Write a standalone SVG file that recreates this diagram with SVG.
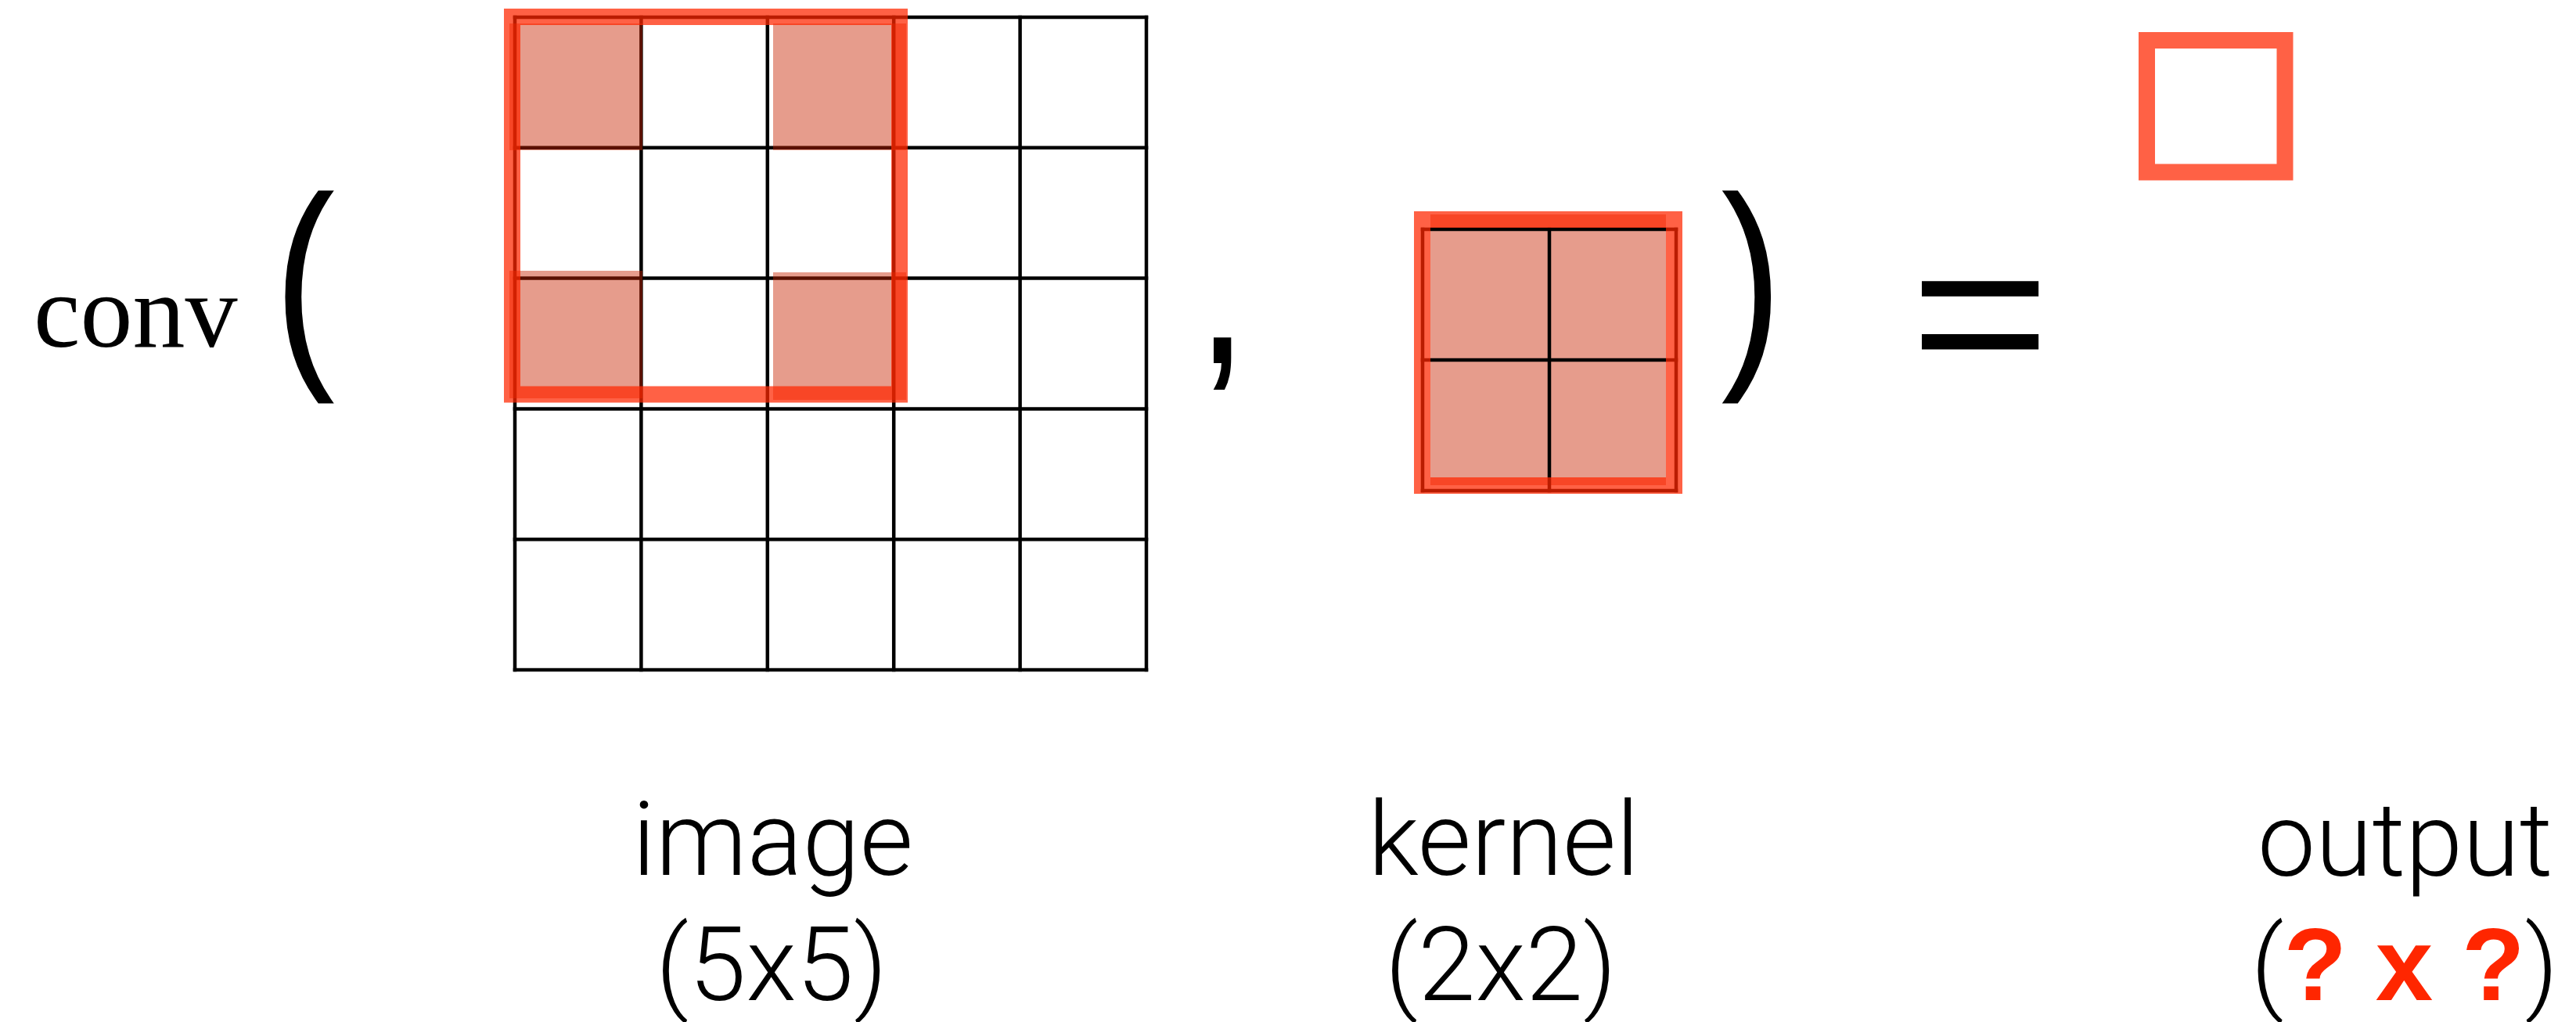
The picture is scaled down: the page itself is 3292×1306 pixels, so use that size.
<svg xmlns="http://www.w3.org/2000/svg" width="3292" height="1306" viewBox="0 0 3292 1306">
<defs>
<style>
.grid line{stroke:#000;stroke-width:4.5;stroke-linecap:square}
.shade{fill:#C82400;fill-opacity:0.45}
.frame{fill:none;stroke:#FF2600;stroke-opacity:0.73;stroke-width:21}
.math{font-family:"Liberation Serif","Times New Roman",serif;fill:#000}
.sym{font-family:"Liberation Sans",Arial,sans-serif;fill:#000}
.lbl{font-family:Roboto,"Liberation Sans",Arial,sans-serif;font-weight:300;font-size:132px;fill:#000;text-anchor:middle}
.q{font-family:"Liberation Sans",Arial,sans-serif;font-weight:700;fill:#FF2600}
</style>
</defs>
<rect width="3292" height="1306" fill="#fff"/>
<g id="conv-expression">
<text class="math" x="43" y="443" font-size="134">conv</text>
<text class="sym" font-size="100" transform="translate(349.9,455) scale(2.35,2.92)">(</text>
</g>
<g id="image-node">
<g class="grid">
<line x1="658" y1="22" x2="658" y2="856"/>
<line x1="819.4" y1="22" x2="819.4" y2="856"/>
<line x1="980.8" y1="22" x2="980.8" y2="856"/>
<line x1="1142.2" y1="22" x2="1142.2" y2="856"/>
<line x1="1303.6" y1="22" x2="1303.6" y2="856"/>
<line x1="1465" y1="22" x2="1465" y2="856"/>
<line x1="658" y1="22" x2="1465" y2="22"/>
<line x1="658" y1="188.8" x2="1465" y2="188.8"/>
<line x1="658" y1="355.6" x2="1465" y2="355.6"/>
<line x1="658" y1="522.4" x2="1465" y2="522.4"/>
<line x1="658" y1="689.2" x2="1465" y2="689.2"/>
<line x1="658" y1="856" x2="1465" y2="856"/>
</g>
<rect class="shade" x="651" y="30" width="170" height="162"/>
<rect class="shade" x="988" y="30" width="170" height="162"/>
<rect class="shade" x="651" y="346" width="170" height="163"/>
<rect class="shade" x="988" y="348" width="170" height="163"/>
<rect class="frame" x="654.5" y="21.5" width="495" height="482.5"/>
</g>
<g id="comma">
<text class="sym" font-weight="700" font-size="100" transform="translate(1540,463.7) scale(1.58,2.19)">,</text>
</g>
<g id="kernel-node">
<rect class="shade" x="1828" y="274" width="301" height="346"/>
<g class="grid">
<line x1="1818" y1="293" x2="1818" y2="627"/>
<line x1="1980" y1="293" x2="1980" y2="627"/>
<line x1="2142" y1="293" x2="2142" y2="627"/>
<line x1="1818" y1="293" x2="2142" y2="293"/>
<line x1="1818" y1="460" x2="2142" y2="460"/>
<line x1="1818" y1="627" x2="2142" y2="627"/>
</g>
<rect class="frame" x="1817.5" y="280.5" width="322" height="340"/>
</g>
<g id="close-equals">
<text class="sym" font-size="100" transform="translate(2199.4,455) scale(2.35,2.92)">)</text>
<text class="sym" font-size="100" transform="translate(2441,492) scale(3.07,2.71)">=</text>
</g>
<g id="output-node">
<rect class="frame" x="2743.5" y="51.5" width="176.5" height="168.5"/>
</g>
<g id="labels">
<text class="lbl" x="987.5" y="1118">image</text>
<text class="lbl" x="986" y="1278">(5x5)</text>
<text class="lbl" x="1921.6" y="1118">kernel</text>
<text class="lbl" x="1918" y="1278">(2x2)</text>
<text class="lbl" x="3073.6" y="1119">output</text>
<text class="lbl" x="3073" y="1278">(<tspan class="q">? x ?</tspan>)</text>
</g>
<g id="connectors"/>
</svg>
